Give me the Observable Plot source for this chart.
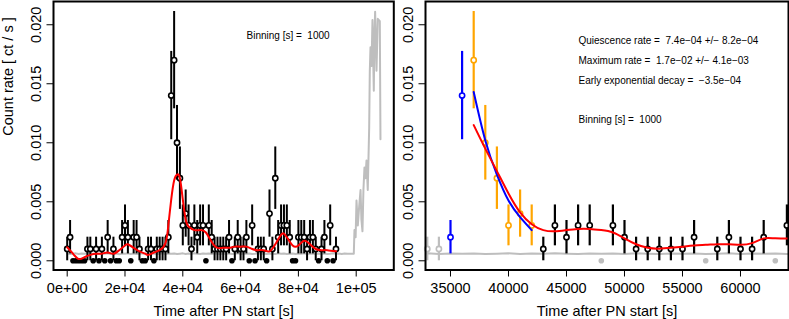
<!DOCTYPE html>
<html><head><meta charset="utf-8">
<script src="https://cdn.jsdelivr.net/npm/d3@7"></script>
<script src="https://cdn.jsdelivr.net/npm/@observablehq/plot@0.6"></script>
<style>
html,body{margin:0;padding:0;background:#fff;}
#wrap{display:flex;width:789px;height:319px;overflow:hidden;}
#wrap svg{display:block;}
</style></head><body><div id="wrap"></div>
<script>
// ---------------- data ----------------
const binning = 1000; // s
// source counts per 1000 s bin, bins start at 0 s
const counts = [
 1,2,0,0,0,0,0,1,1,0, 1,0,1,0,2,0,1,0,0,2,
 3,2,0,2,2,1,0,0,1,1, 0,1,1,1,1,2,14,17,10,7,
 3,4,3,1,3,2,3,3,0,3, 2,1,1,1,1,1,2,0,1,2,
 1,1,2,0,3,0,1,1,1,0, 4,1,7,2,3,3,3,2,0,0,
 2,2,2,1,2,2,1,0,1,2, 0,3,0,1
];
// background light curve (grey), one value per 1000 s from 0 s
const bgRate = [
 0.00062,0.00058,0.00060,0.00063,0.00057,0.00061,0.00059,0.00064,0.00058,0.00060,
 0.00062,0.00057,0.00061,0.00059,0.00063,0.00058,0.00060,0.00062,0.00056,0.00061,
 0.00059,0.00063,0.00058,0.00061,0.00057,0.00060,0.00064,0.00059,0.00061,0.00058,
 0.00062,0.00057,0.00060,0.00063,0.00058,0.00061,0.00059,0.00062,0.00057,0.00060,
 0.00063,0.00058,0.00061,0.00059,0.00064,0.00060,0.00057,0.00062,0.00059,0.00061,
 0.00058,0.00063,0.00060,0.00057,0.00061,0.00059,0.00062,0.00058,0.00060,0.00063,
 0.00057,0.00061,0.00059,0.00062,0.00058,0.00060,0.00064,0.00059,0.00061,0.00057,
 0.00062,0.00060,0.00058,0.00063,0.00059,0.00061,0.00057,0.00060,0.00062,0.00058,
 0.00061,0.00059,0.00063,0.00058,0.00060,0.00062,0.00057,0.00061,0.00059,0.00062,
 0.00058,0.00060,0.00063,0.00059,0.00061,0.00058,0.00062,0.00060,0.00059,0.00061
];
// end-of-observation background flare (grey)
const flareT = [99170,99400,99800,100100,100400,100560,101000,101500,101800,102170,102500,102860,103200,103560,104000,104490,104700,104940,105300,105630,106090,106300,106550,107020,107470,108170,108400];
const flareV = [0.00060,0.0026,0.0020,0.0051,0.0038,0.0030,0.0045,0.0060,0.0035,0.0025,0.0060,0.0079,0.0070,0.0085,0.0060,0.0113,0.0160,0.0181,0.0165,0.0204,0.0144,0.0190,0.0211,0.0161,0.0205,0.0203,0.0103];
// smoothed rate, full observation (red, left)
const smoothLT = [0,2000,4000,6000,8000,10000,12000,14000,16000,18000,20000,21000,23000,25000,27000,28000,30000,32000,34000,35000,36000,37000,38000,39000,40000,41000,42000,44000,46000,48000,50000,52000,54000,56000,58000,60000,62000,64000,66000,68000,70000,72000,74000,75000,76000,78000,80000,82000,84000,86000,88000,90000,93000];
const smoothLV = [0.00115,0.0006,0.00015,0.0003,0.0005,0.0006,0.0006,0.0007,0.0006,0.0009,0.0013,0.0014,0.0011,0.0008,0.0006,0.0005,0.0007,0.0009,0.0015,0.0030,0.0052,0.0068,0.0073,0.0070,0.0052,0.0035,0.0029,0.0026,0.0026,0.0024,0.0016,0.0011,0.0011,0.0011,0.0012,0.0012,0.0012,0.0010,0.0009,0.0009,0.0008,0.0014,0.0022,0.0023,0.0020,0.0013,0.0013,0.0017,0.0014,0.0010,0.0009,0.0009,0.0008];
// smoothed rate after the peak (red, right)
const smoothRT = [37000,38000,39000,40000,41000,42000,43000,44000,45000,46000,47000,48000,49000,50000,51000,52000,53000,54000,55000,56000,57000,58000,59000,60000,61000,62000,63000,64200];
const smoothRV = [0.0115,0.0095,0.0076,0.0057,0.0041,0.0031,0.0026,0.0025,0.0026,0.0027,0.0027,0.0026,0.0024,0.0019,0.0014,0.0011,0.00103,0.0011,0.0012,0.0013,0.00135,0.0014,0.0014,0.00135,0.0015,0.0019,0.0019,0.0019];
// early exponential decay fit (blue)
const decayT = [37000,38000,39000,40000,41000,42000];
const decayV = [0.0143,0.0102,0.0073,0.0051,0.0037,0.0026];
// flare phases shown in the zoom panel
const phaseNames = ["pre-flare","rise","decay","quiescence"];
const phaseStart = [33000,35000,37000,43000];
const zoomEnd = 64000;
// axes
const leftXTicks = [0,20000,40000,60000,80000,100000];
const leftXTickLabels = ["0e+00","2e+04","4e+04","6e+04","8e+04","1e+05"];
const rightXTicks = [35000,40000,45000,50000,55000,60000];
const yTicks = [0,0.005,0.010,0.015,0.020];
const yTickLabels = ["0.000","0.005","0.010","0.015","0.020"];
const xTitle = "Time after PN start [s]";
const yTitle = "Count rate [ ct / s ]";
const leftNotes = ["Binning [s] =  1000"];
const rightNotes = ["Quiescence rate =  7.4e\u221204 +/\u2212 8.2e\u221204","Maximum rate =  1.7e\u221202 +/\u2212 4.1e\u221203","Early exponential decay =  \u22123.5e\u221204","Binning [s] =  1000"];

// ---------------- styles ----------------
const FONT = '"Liberation Sans", Arial, Helvetica, sans-serif';
const TICKFS = 14.5, NOTEFS = 10;
const GREY = "#BEBEBE";
const phaseColor = {"pre-flare": GREY, "rise": "#0000FF", "decay": "#FFA500", "quiescence": "#000000"};
const rightNoteDy = [39, 59, 79, 118];

// ---------------- tables ----------------
const bins = counts.map((c, i) => ({t: i * binning, rate: c / binning, err: Math.sqrt(c) / binning, n: c}));
const bg = bgRate.map((v, i) => ({t: i * binning, v})).concat(flareT.map((t, i) => ({t, v: flareV[i]})));
const smoothL = smoothLT.map((t, i) => ({t, v: smoothLV[i]}));
const smoothR = smoothRT.map((t, i) => ({t, v: smoothRV[i]}));
const decay = decayT.map((t, i) => ({t, v: decayV[i]}));
function phaseOf(t) { let p = -1; phaseStart.forEach((s, i) => { if (t >= s) p = i; }); return phaseNames[p]; }
const zoomBins = bins.filter(d => d.t >= phaseStart[0] && d.t <= zoomEnd).map(d => ({...d, phase: phaseOf(d.t)}));

const yScale = {domain: [-0.00078, 0.02197], ticks: yTicks};
const lab = (arr, labels) => d => labels[arr.indexOf(d)];

function yAxis() {
  return Plot.axisY(yTicks, {tickSize: 6.5, tickRotate: -90, tickPadding: 6, tickFormat: lab(yTicks, yTickLabels), fontSize: TICKFS, label: null, fill: "#000", stroke: "#000"});
}

const left = Plot.plot({
  width: 400, height: 319,
  marginLeft: 53, marginRight: 6.7, marginTop: 1, marginBottom: 49.5,
  style: {fontFamily: FONT, background: "white", overflow: "visible"},
  x: {domain: [-4740, 113010]},
  y: yScale,
  marks: [
    Plot.line(bg, {x: "t", y: "v", stroke: GREY, strokeWidth: 2}),
    Plot.ruleX(bins.filter(d => d.n > 0), {x: "t", y1: d => d.rate - d.err, y2: d => d.rate + d.err, stroke: "#000", strokeWidth: 2}),
    Plot.dot(bins.filter(d => d.n > 0), {x: "t", y: "rate", r: 2.6, stroke: "#000", fill: "white", strokeWidth: 1.6}),
    Plot.dot(bins.filter(d => d.n === 0), {x: "t", y: "rate", r: 2.8, fill: "#000"}),
    Plot.line(smoothL, {x: "t", y: "v", stroke: "#FF0000", strokeWidth: 2, curve: "natural"}),
    Plot.text(leftNotes, {frameAnchor: "top-left", dx: 193, dy: 34, textAnchor: "start", lineAnchor: "middle", fontSize: NOTEFS, fill: "#000"}),
    Plot.frame({stroke: "#000", strokeWidth: 2}),
    Plot.axisX(leftXTicks, {tickSize: 7, tickPadding: 6, tickFormat: lab(leftXTicks, leftXTickLabels), fontSize: TICKFS, label: null}),
    yAxis(),
    Plot.text([xTitle], {frameAnchor: "bottom", dy: 41, fontSize: TICKFS, lineAnchor: "middle", fill: "#000"}),
    Plot.text([yTitle], {frameAnchor: "left", dx: -45, rotate: -90, fontSize: TICKFS, lineAnchor: "middle", fill: "#000"})
  ]
});

const right = Plot.plot({
  width: 389, height: 319,
  marginLeft: 25, marginRight: 1, marginTop: 1, marginBottom: 49.5,
  style: {fontFamily: FONT, background: "white", overflow: "visible"},
  x: {domain: [32845, 64138]},
  y: yScale,
  marks: [
    Plot.line(bg.filter(d => d.t <= 65000), {x: "t", y: "v", stroke: GREY, strokeWidth: 2, clip: true}),
    Plot.ruleX(zoomBins.filter(d => d.n > 0), {x: "t", y1: d => d.rate - d.err, y2: d => d.rate + d.err, stroke: d => phaseColor[d.phase], strokeWidth: 2.2}),
    Plot.dot(zoomBins.filter(d => d.n > 0), {x: "t", y: "rate", r: 2.6, stroke: d => phaseColor[d.phase], fill: "white", strokeWidth: 1.6}),
    Plot.dot(zoomBins.filter(d => d.n === 0), {x: "t", y: "rate", r: 2.8, fill: GREY}),
    Plot.line(decay, {x: "t", y: "v", stroke: "#0000FF", strokeWidth: 2, curve: "natural"}),
    Plot.line(smoothR, {x: "t", y: "v", stroke: "#FF0000", strokeWidth: 2, curve: "natural", clip: true}),
    ...rightNotes.map((s, i) => Plot.text([s], {frameAnchor: "top-left", dx: 153, dy: rightNoteDy[i], textAnchor: "start", lineAnchor: "middle", fontSize: NOTEFS, fill: "#000"})),
    Plot.frame({stroke: "#000", strokeWidth: 2}),
    Plot.axisX(rightXTicks, {tickSize: 7, tickPadding: 6, tickFormat: d => String(d), fontSize: TICKFS, label: null}),
    yAxis(),
    Plot.text([xTitle], {frameAnchor: "bottom", dy: 41, fontSize: TICKFS, lineAnchor: "middle", fill: "#000"})
  ]
});

document.getElementById("wrap").append(left, right);
</script></body></html>
